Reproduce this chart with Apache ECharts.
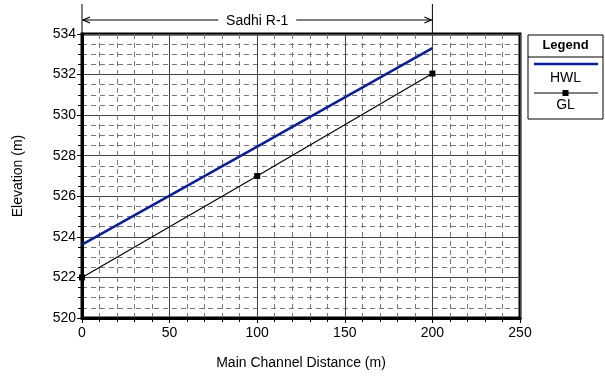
<!DOCTYPE html>
<html>
<head>
<meta charset="utf-8">
<script src="https://cdn.jsdelivr.net/npm/echarts@6/dist/echarts.min.js"></script>
<style>
  html, body { margin: 0; padding: 0; background: #fff; }
  #chart { width: 605px; height: 379px; }
</style>
</head>
<body>
<div id="chart"></div>
<script>
// Profile along the reach: station distance (m) and elevations (m)
const distances = [0, 100, 200];
const hwlValues = [523.62, 528.45, 533.3];
const glValues = [522.0, 527.0, 532.05];
const reachName = 'Sadhi R-1';
const seriesNames = ['HWL', 'GL'];

const FONT = '"Liberation Sans", Arial, sans-serif';

const chart = echarts.init(document.getElementById('chart'), null, { renderer: 'canvas' });

const option = {
  animation: false,
  backgroundColor: '#fff',
  grid: {
    left: 82, right: 85, top: 34, bottom: 61,
    show: true, borderColor: '#000', borderWidth: 3, backgroundColor: 'transparent'
  },
  xAxis: {
    type: 'value', min: 0, max: 250, interval: 50,
    name: 'Main Channel Distance (m)', nameLocation: 'middle', nameGap: 38,
    nameTextStyle: { fontFamily: FONT, fontSize: 14, color: '#000' },
    axisLine: { show: true, lineStyle: { color: '#000', width: 3 } },
    axisTick: { show: true, length: 5, lineStyle: { color: '#000' } },
    minorTick: { show: true, splitNumber: 5, length: 4, lineStyle: { color: '#000' } },
    axisLabel: { fontFamily: FONT, fontSize: 14, color: '#000', margin: 8 },
    splitLine: { show: true, lineStyle: { color: '#444', width: 1 } },
    minorSplitLine: { show: true, lineStyle: { color: '#777', width: 1, type: [5, 4] } }
  },
  yAxis: {
    type: 'value', min: 520, max: 534, interval: 2,
    name: 'Elevation (m)', nameLocation: 'middle', nameGap: 57,
    nameTextStyle: { fontFamily: FONT, fontSize: 14, color: '#000' },
    axisLine: { show: true, lineStyle: { color: '#000', width: 3 } },
    axisTick: { show: true, length: 5, lineStyle: { color: '#000' } },
    minorTick: { show: true, splitNumber: 4, length: 4, lineStyle: { color: '#000' } },
    axisLabel: { fontFamily: FONT, fontSize: 14, color: '#000', margin: 6 },
    splitLine: { show: true, lineStyle: { color: '#444', width: 1 } },
    minorSplitLine: { show: true, lineStyle: { color: '#777', width: 1, type: [5, 4] } }
  },
  series: [
    {
      name: seriesNames[0], type: 'line',
      data: distances.map((d, i) => [d, hwlValues[i]]),
      showSymbol: false, symbol: 'none',
      lineStyle: { color: '#0a1e9a', width: 2.5 }, z: 4
    },
    {
      name: seriesNames[1], type: 'line', clip: false,
      data: distances.map((d, i) => [d, glValues[i]]),
      symbol: 'rect', symbolSize: 6,
      itemStyle: { color: '#000' },
      lineStyle: { color: '#000', width: 1.2 }, z: 10
    }
  ]
};
chart.setOption(option);

// Reach extent marker above the plot and the boxed legend
function drawExtras() {
  const x0 = chart.convertToPixel({ xAxisIndex: 0 }, distances[0]);
  const x1 = chart.convertToPixel({ xAxisIndex: 0 }, distances[distances.length - 1]);
  const yTop = chart.convertToPixel({ yAxisIndex: 0 }, 534);
  const ay = 20;
  const lgL = 528, lgR = 603, lgT = 35, lgB = 119;
  const lgC = (lgL + lgR) / 2;
  const elements = [
    { type: 'line', shape: { x1: x0, y1: 4, x2: x0, y2: yTop }, style: { stroke: '#000', lineWidth: 1 } },
    { type: 'line', shape: { x1: x1, y1: 4, x2: x1, y2: yTop }, style: { stroke: '#000', lineWidth: 1 } },
    { type: 'line', shape: { x1: x0 + 1, y1: ay, x2: x1 - 1, y2: ay }, style: { stroke: '#000', lineWidth: 1 } },
    { type: 'polyline', shape: { points: [[x0 + 8, ay - 3], [x0 + 1, ay], [x0 + 8, ay + 3]] }, style: { stroke: '#000', fill: null, lineWidth: 1.2 } },
    { type: 'polyline', shape: { points: [[x1 - 8, ay - 3], [x1 - 1, ay], [x1 - 8, ay + 3]] }, style: { stroke: '#000', fill: null, lineWidth: 1.2 } },
    { type: 'rect', shape: { x: (x0 + x1) / 2 - 39, y: ay - 9, width: 78, height: 18 }, style: { fill: '#fff' } },
    { type: 'text', x: (x0 + x1) / 2, y: ay + 1, style: { text: reachName, fontFamily: FONT, fontSize: 14, fill: '#000', align: 'center', verticalAlign: 'middle' } },

    { type: 'rect', shape: { x: lgL, y: lgT, width: lgR - lgL, height: lgB - lgT }, style: { fill: '#fff', stroke: '#000', lineWidth: 1 } },
    { type: 'text', x: lgC, y: 45, style: { text: 'Legend', fontFamily: FONT, fontSize: 13, fontWeight: 'bold', fill: '#000', align: 'center', verticalAlign: 'middle' } },
    { type: 'line', shape: { x1: lgL, y1: 57, x2: lgR, y2: 57 }, style: { stroke: '#000', lineWidth: 1 } },
    { type: 'line', shape: { x1: lgL + 6, y1: 64, x2: lgR - 5, y2: 64 }, style: { stroke: '#0a1e9a', lineWidth: 2.5 } },
    { type: 'text', x: lgC, y: 78, style: { text: seriesNames[0], fontFamily: FONT, fontSize: 14, fill: '#000', align: 'center', verticalAlign: 'middle' } },
    { type: 'line', shape: { x1: lgL + 6, y1: 93, x2: lgR - 5, y2: 93 }, style: { stroke: '#000', lineWidth: 1 } },
    { type: 'rect', shape: { x: lgC - 3, y: 90, width: 6, height: 6 }, style: { fill: '#000' } },
    { type: 'text', x: lgC, y: 105, style: { text: seriesNames[1], fontFamily: FONT, fontSize: 14, fill: '#000', align: 'center', verticalAlign: 'middle' } }
  ];
  chart.setOption({ graphic: { elements: elements } });
}
drawExtras();
</script>
</body>
</html>
